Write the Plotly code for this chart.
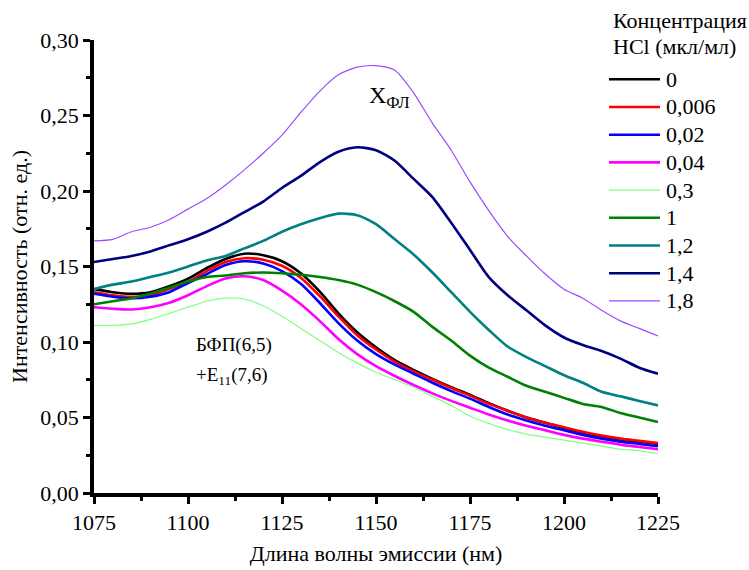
import plotly.graph_objects as go

wavelength = [1075, 1080, 1085, 1090, 1095, 1100, 1105, 1110, 1115, 1120, 1125, 1130, 1135, 1140,
              1145, 1150, 1155, 1160, 1165, 1170, 1175, 1180, 1185, 1190, 1195, 1200, 1205, 1210,
              1215, 1220, 1225]

c_0 = [0.135, 0.133, 0.132, 0.133, 0.137, 0.142, 0.149, 0.155, 0.1585, 0.1575, 0.1535, 0.1455, 0.1335, 0.119,
       0.1065, 0.0965, 0.088, 0.0815, 0.0755, 0.070, 0.065, 0.0595, 0.0545, 0.050, 0.0465, 0.043, 0.040, 0.0375,
       0.0355, 0.034, 0.0325]
c_0006 = [0.133, 0.131, 0.130, 0.131, 0.135, 0.140, 0.147, 0.153, 0.1555, 0.1545, 0.1505, 0.1425, 0.1305, 0.117,
          0.1045, 0.095, 0.087, 0.0805, 0.075, 0.0695, 0.0645, 0.059, 0.0545, 0.050, 0.0465, 0.0435, 0.0405, 0.038,
          0.036, 0.0345, 0.033]
c_002 = [0.132, 0.130, 0.129, 0.130, 0.133, 0.139, 0.145, 0.151, 0.1535, 0.152, 0.147, 0.1385, 0.126, 0.1125,
         0.101, 0.092, 0.085, 0.079, 0.073, 0.0675, 0.0625, 0.057, 0.052, 0.048, 0.0445, 0.0415, 0.0385, 0.036,
         0.034, 0.0325, 0.031]
c_004 = [0.123, 0.122, 0.1215, 0.123, 0.126, 0.131, 0.137, 0.142, 0.1435, 0.141, 0.134, 0.125, 0.114, 0.102,
         0.092, 0.084, 0.0775, 0.0715, 0.066, 0.061, 0.0565, 0.052, 0.048, 0.0445, 0.0415, 0.0385, 0.036, 0.034,
         0.032, 0.0305, 0.029]
c_03 = [0.111, 0.111, 0.112, 0.115, 0.119, 0.123, 0.127, 0.129, 0.1285, 0.124, 0.117, 0.109, 0.101, 0.093,
        0.086, 0.080, 0.075, 0.070, 0.064, 0.058, 0.051, 0.046, 0.042, 0.039, 0.037, 0.035, 0.033, 0.031,
        0.029, 0.028, 0.026]
c_1 = [0.125, 0.127, 0.129, 0.132, 0.136, 0.140, 0.143, 0.144, 0.1455, 0.146, 0.1455, 0.1445, 0.143, 0.141,
       0.138, 0.133, 0.127, 0.120, 0.110, 0.101, 0.091, 0.083, 0.077, 0.071, 0.067, 0.063, 0.059, 0.057,
       0.053, 0.050, 0.047]
c_12 = [0.135, 0.138, 0.140, 0.143, 0.146, 0.150, 0.154, 0.157, 0.162, 0.167, 0.173, 0.178, 0.182, 0.185,
        0.184, 0.178, 0.168, 0.158, 0.146, 0.133, 0.120, 0.108, 0.097, 0.090, 0.084, 0.078, 0.073, 0.067,
        0.064, 0.061, 0.058]
c_14 = [0.153, 0.155, 0.157, 0.160, 0.164, 0.168, 0.173, 0.179, 0.186, 0.193, 0.202, 0.210, 0.219, 0.226,
        0.229, 0.227, 0.220, 0.208, 0.196, 0.179, 0.161, 0.143, 0.131, 0.121, 0.111, 0.103, 0.098, 0.094,
        0.089, 0.083, 0.079]
c_18 = [0.167, 0.168, 0.173, 0.176, 0.181, 0.188, 0.195, 0.204, 0.214, 0.225, 0.237, 0.252, 0.266, 0.277,
        0.282, 0.283, 0.280, 0.265, 0.245, 0.227, 0.206, 0.187, 0.170, 0.157, 0.145, 0.135, 0.129, 0.121,
        0.114, 0.109, 0.104]

series_names = ["0", "0,006", "0,02", "0,04", "0,3", "1", "1,2", "1,4", "1,8"]
series_values = [c_0, c_0006, c_002, c_004, c_03, c_1, c_12, c_14, c_18]
series_colors = ["#000000", "#ff0000", "#0000ff", "#ff00ff", "#80ff80", "#008000", "#008080", "#000080", "#9a4dff"]
series_widths = [2.6, 2.6, 2.6, 2.6, 1.2, 2.6, 2.6, 2.6, 1.2]
legend_title_lines = ["Концентрация", "HCl (мкл/мл)"]

FONT = "Times New Roman"

W, H = 749, 570
ML, MR, MT, MB = 94, 91, 40, 77
PW, PH = W - ML - MR, H - MT - MB


def px_x(px):
    return (px - ML) / PW


def px_y(py):
    return (H - MB - py) / PH


fig = go.Figure()
for name, vals, col, w in zip(series_names, series_values, series_colors, series_widths):
    fig.add_trace(go.Scatter(
        x=wavelength, y=vals, name=name, mode="lines", showlegend=False,
        line=dict(color=col, width=w, shape="spline", smoothing=0.7),
    ))

fig.update_layout(
    width=W, height=H,
    margin=dict(l=ML, r=MR, t=MT, b=MB, autoexpand=False),
    paper_bgcolor="white", plot_bgcolor="white",
    separators=", ",
    font=dict(family=FONT, size=22, color="black"),
    showlegend=False,
    xaxis=dict(
        range=[1075, 1225], tickmode="linear", tick0=1075, dtick=25, tickformat="d",
        showline=True, linecolor="black", linewidth=3.5, mirror=False, automargin=False,
        ticks="outside", ticklen=7, tickwidth=3, tickcolor="black",
        minor=dict(ticks="outside", ticklen=4, tickwidth=3, dtick=12.5, tickcolor="black"),
        showgrid=False, zeroline=False,
        title=dict(text="Длина волны эмиссии (нм)", font=dict(family=FONT, size=22), standoff=12),
        tickfont=dict(family=FONT, size=22),
    ),
    yaxis=dict(
        range=[0, 0.30], tickmode="linear", tick0=0, dtick=0.05, tickformat=".2f",
        showline=True, linecolor="black", linewidth=3.5, mirror=False, automargin=False,
        ticks="outside", ticklen=7, tickwidth=3, tickcolor="black",
        minor=dict(ticks="outside", ticklen=4, tickwidth=3, dtick=0.025, tickcolor="black"),
        showgrid=False, zeroline=False,
        title=dict(text="Интенсивность (отн. ед.)", font=dict(family=FONT, size=22), standoff=8),
        tickfont=dict(family=FONT, size=22),
    ),
)

# legend drawn by hand (longer line samples, tighter spacing like the reference)
for j, (txt, py) in enumerate(zip(legend_title_lines, [20, 47])):
    fig.add_annotation(x=px_x(611), y=px_y(py), xref="paper", yref="paper",
                       xanchor="left", yanchor="middle", text=txt, showarrow=False,
                       font=dict(family=FONT, size=22))
for i, (name, col, w) in enumerate(zip(series_names, series_colors, series_widths)):
    py = 79.3 + 27.7 * i
    fig.add_shape(type="line", xref="paper", yref="paper",
                  x0=px_x(609), x1=px_x(660), y0=px_y(py), y1=px_y(py),
                  line=dict(color=col, width=w))
    fig.add_annotation(x=px_x(664), y=px_y(py), xref="paper", yref="paper",
                       xanchor="left", yanchor="middle", text=name, showarrow=False,
                       font=dict(family=FONT, size=22))

fig.add_annotation(x=1147.5, y=0.262, xref="x", yref="y", xanchor="left", yanchor="middle",
                   text="Х<sub>ФЛ</sub>", showarrow=False, font=dict(family=FONT, size=24))
fig.add_annotation(x=1101.6, y=0.0980, xref="x", yref="y", xanchor="left", yanchor="middle",
                   text="БФП(6,5)", showarrow=False, font=dict(family=FONT, size=19))
fig.add_annotation(x=1101.6, y=0.0775, xref="x", yref="y", xanchor="left", yanchor="middle",
                   text="+E<sub>11</sub>(7,6)", showarrow=False, font=dict(family=FONT, size=19))

fig.write_html("out.html", config={"displayModeBar": False},
               post_script="document.body.style.margin='0px';")
